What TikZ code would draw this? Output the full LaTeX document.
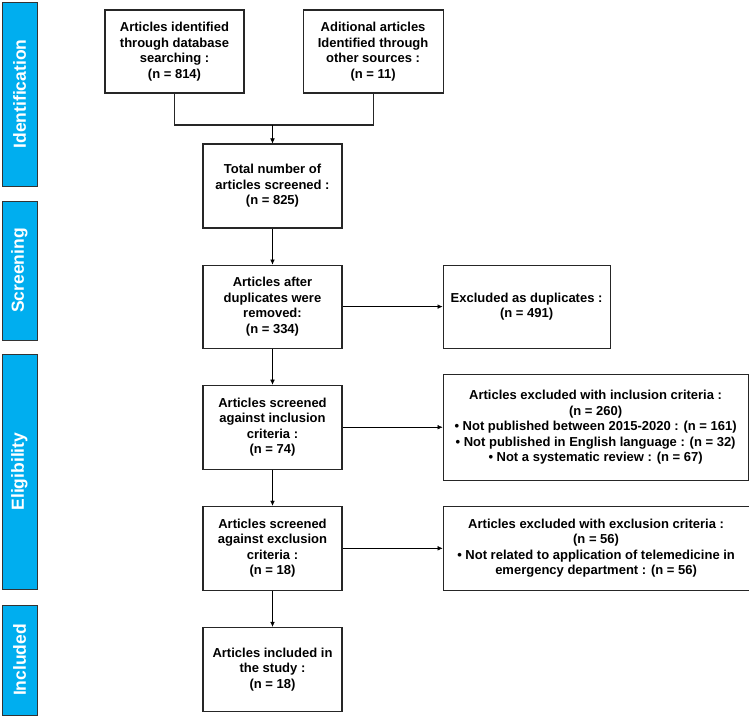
\documentclass[tikz,border=0pt]{standalone}
\usepackage{fontspec}
\setmainfont{Liberation Sans}
\usetikzlibrary{positioning,arrows.meta}
\definecolor{phase}{HTML}{00AEEF}

\begin{document}
\begin{tikzpicture}[x=1pt, y=1pt, node distance=36pt, >={Latex[length=5pt,width=4.5pt]},
	main/.style = {draw=black!85, line width=1.1pt, minimum width=139pt, minimum height=83pt, align=center, inner sep=2pt, font=\fontsize{13}{15.5}\selectfont\bfseries},
	side/.style = {draw=black!80, line width=1pt, fill=phase, text=white, rotate=90, minimum height=35pt, inner sep=0pt, font=\fontsize{17.5}{20}\selectfont\bfseries}]
			\useasboundingbox (0,0) rectangle (749,-716);
			\node[side, minimum width=184pt] (id) at (19.5,-94) {Identification};
			\node[side, minimum width=139pt] (sc) at (19.5,-270.5) {Screening};
			\node[side, minimum width=235pt] (el) at (19.5,-471.5) {Eligibility};
			\node[side, minimum width=110pt] (in) at (19.5,-660) {Included};
			\node[main] (1) at (174.5,-51.5) {Articles identified\\through database\\searching :\\(n = 814)};
			\node[main, minimum width=140pt] (2) [right=58pt of 1] {Aditional articles\\Identified through\\other sources :\\(n = 11)};
			\node[main, minimum height=84pt] (3) at (272.5,-186) {Total number of\\articles screened :\\(n = 825)};
			\node[main] (4) [below=of 3] {Articles after\\duplicates were\\removed:\\(n = 334)};
			\node[main, minimum width=167pt] (5) [right=100pt of 4] {Excluded as duplicates :\\(n = 491)};
			\node[main, minimum height=84pt] (6) [below=of 4] {Articles screened\\against inclusion\\criteria :\\(n = 74)};
			\node[main, minimum width=305pt, minimum height=106pt] (7) [right=100pt of 6] {Articles excluded with inclusion criteria :\\(n = 260)\\• Not published between 2015-2020 : (n = 161)\\• Not published in English language : (n = 32)\\• Not a systematic review : (n = 67)};
			\node[main, minimum height=84pt] (8) [below=of 6] {Articles screened\\against exclusion\\criteria :\\(n = 18)};
			\node[main, minimum width=306pt, minimum height=84pt] (9) [right=100pt of 8] {Articles excluded with exclusion criteria :\\(n = 56)\\• Not related to application of telemedicine in\\emergency department : (n = 56)};
			\node[main, minimum height=84pt] (10) [below=of 8] {Articles included in\\the study :\\(n = 18)};
			\coordinate (join) at (272.5,-125);
			\draw[line width=1.1pt, black!85] (1.south) |- (join) -| (2.south);
			\draw[->] (join) -- (3);
			\draw[->] (3) -- (4);
			\draw[->] (4) -- (5);
			\draw[->] (4) -- (6);
			\draw[->] (6) -- (7);
			\draw[->] (6) -- (8);
			\draw[->] (8) -- (9);
			\draw[->] (8) -- (10);
		\end{tikzpicture}
\end{document}
